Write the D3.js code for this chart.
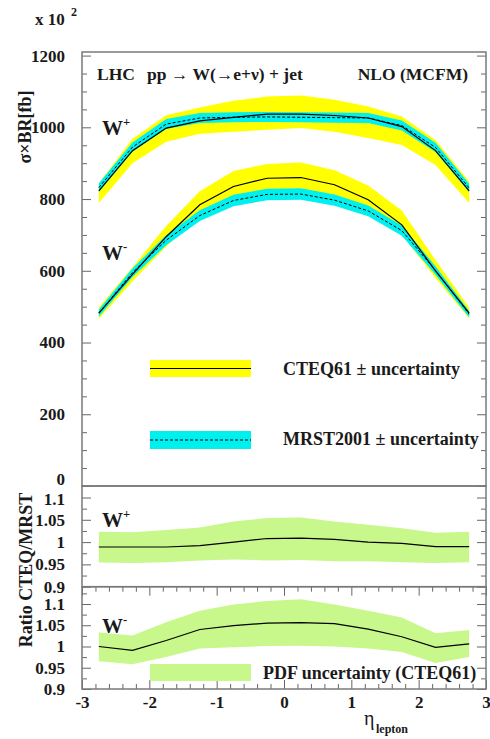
<!DOCTYPE html>
<html><head><meta charset="utf-8">
<script src="https://cdn.jsdelivr.net/npm/d3@7"></script>
<style>
body{margin:0;background:#fff}
svg{display:block}
text{font-family:"Liberation Serif","Times New Roman",serif;fill:#1a1a1a}
</style>
</head><body><svg id="c" width="490" height="739"></svg>
<script>
// ---------------- data ----------------
const eta = [-2.75,-2.25,-1.75,-1.25,-0.75,-0.25,0.25,0.75,1.25,1.75,2.25,2.75];

const cteqWp   = [823, 935, 998, 1018, 1028, 1037, 1037, 1033, 1026, 1002, 935, 823];
const cteqWpLo = [789, 900, 960,  982,  988,  993,  998,  988,  970,  951, 895, 789];
const cteqWpHi = [844, 968,1034, 1055, 1074, 1086, 1089, 1077, 1058, 1030, 965, 849];

const mrstWp   = [832, 945,1009, 1026, 1028, 1029, 1028, 1027, 1026, 1005, 944, 831];
const mrstWpLo = [820, 932, 995, 1012, 1014, 1015, 1014, 1013, 1012,  991, 931, 819];
const mrstWpHi = [844, 958,1023, 1040, 1042, 1043, 1042, 1041, 1040, 1019, 957, 843];

const cteqWm   = [482, 590, 695, 784, 835, 858, 860, 840, 798, 728, 600, 482];
const cteqWmLo = [466, 570, 668, 753, 800, 815, 816, 798, 760, 700, 580, 467];
const cteqWmHi = [498, 610, 725, 822, 878, 898, 902, 880, 838, 768, 630, 498];

const mrstWm   = [482, 595, 685, 754, 796, 813, 814, 797, 767, 712, 601, 479];
const mrstWmLo = [472, 583, 671, 739, 780, 797, 798, 781, 752, 698, 589, 470];
const mrstWmHi = [492, 607, 699, 769, 812, 829, 830, 813, 782, 726, 613, 488];

const ratioWp   = [0.989,0.989,0.989,0.992,1.000,1.008,1.009,1.006,1.000,0.997,0.990,0.990];
const ratioWpLo = [0.954,0.953,0.955,0.959,0.961,0.959,0.960,0.957,0.957,0.955,0.953,0.955];
const ratioWpHi = [1.023,1.022,1.027,1.033,1.046,1.054,1.055,1.046,1.039,1.031,1.021,1.023];

const ratioWm   = [1.000,0.991,1.014,1.040,1.049,1.055,1.056,1.054,1.041,1.023,0.998,1.006];
const ratioWmLo = [0.965,0.958,0.975,0.995,0.998,1.001,1.002,1.000,0.995,0.987,0.961,0.975];
const ratioWmHi = [1.033,1.026,1.057,1.084,1.099,1.107,1.111,1.099,1.084,1.068,1.031,1.039];

const xTicks = [-3,-2,-1,0,1,2,3];
const mainTicks = [0,200,400,600,800,1000,1200];
const ratioTicks = [0.9,0.95,1,1.05,1.1];

// ---------------- layout ----------------
const svg = d3.select("#c");
svg.append("rect").attr("width",490).attr("height",739).attr("fill","#fff");
const X0 = 82, X1 = 486;
const x   = d3.scaleLinear().domain([-3,3]).range([X0,X1]);
const yM  = d3.scaleLinear().domain([0,1210]).range([486,52]);
const yR1 = d3.scaleLinear().domain([0.9,1.128]).range([586.7,485]);
const yR2 = d3.scaleLinear().domain([0.9,1.1407]).range([689,586.7]);

const YEL = "#ffff00", CYAN = "#00f0f0", GREEN = "#c8f78c";
const FRAME = "#7a7a7a";

function band(lo, hi, y, fill){
  svg.append("path")
    .datum(eta.map((e,i)=>({e, lo:lo[i], hi:hi[i]})))
    .attr("d", d3.area().x(d=>x(d.e)).y0(d=>y(d.lo)).y1(d=>y(d.hi)))
    .attr("fill", fill);
}
function line(v, y, dash){
  const p = svg.append("path")
    .datum(eta.map((e,i)=>({e, v:v[i]})))
    .attr("d", d3.line().x(d=>x(d.e)).y(d=>y(d.v)))
    .attr("fill","none").attr("stroke","#000")
    .attr("stroke-width", dash ? 1 : 1.2);
  if (dash) p.attr("stroke-dasharray", "3,2");
}

// main panel
band(cteqWpLo, cteqWpHi, yM, YEL);
band(cteqWmLo, cteqWmHi, yM, YEL);
band(mrstWpLo, mrstWpHi, yM, CYAN);
band(mrstWmLo, mrstWmHi, yM, CYAN);
line(mrstWp, yM, true);
line(mrstWm, yM, true);
line(cteqWp, yM, false);
line(cteqWm, yM, false);

// ratio panels
band(ratioWpLo, ratioWpHi, yR1, GREEN);
line(ratioWp, yR1, false);
band(ratioWmLo, ratioWmHi, yR2, GREEN);
line(ratioWm, yR2, false);

// ---------------- axes ----------------
function styleAxis(g){
  g.select(".domain").remove();
  g.selectAll(".tick line").attr("stroke","#666");
  g.selectAll("text").attr("font-size","17px").attr("font-weight","bold")
    .attr("fill","#1a1a1a").attr("font-family","'Liberation Serif',serif");
}
function yAxes(y, major, minor){
  const g = svg.append("g").attr("transform",`translate(${X0},0)`)
    .call(d3.axisLeft(y).tickValues(major).tickSizeInner(-9).tickSizeOuter(0).tickPadding(17)
      .tickFormat(d=>String(+d.toFixed(3)))).call(styleAxis);
  svg.append("g").attr("transform",`translate(${X0},0)`)
    .call(d3.axisLeft(y).tickValues(minor).tickSizeInner(-5).tickSizeOuter(0).tickFormat("")).call(styleAxis);
  svg.append("g").attr("transform",`translate(${X1},0)`)
    .call(d3.axisRight(y).tickValues(major).tickSizeInner(-9).tickSizeOuter(0).tickFormat("")).call(styleAxis);
  svg.append("g").attr("transform",`translate(${X1},0)`)
    .call(d3.axisRight(y).tickValues(minor).tickSizeInner(-5).tickSizeOuter(0).tickFormat("")).call(styleAxis);
  return g;
}
const gMain = yAxes(yM, mainTicks, d3.range(50,1200,50).filter(v=>v%200!==0));
// keep the "0" label clear of the ratio panel's top label
gMain.selectAll(".tick text").filter(d=>d===0).attr("dy","-0.1em");
const gR1 = yAxes(yR1, ratioTicks, [0.925,0.975,1.025,1.075]);
gR1.selectAll(".tick text").filter(d=>d===1.1).attr("dy","0.42em");
yAxes(yR2, ratioTicks, [0.925,0.975,1.025,1.075,1.125]);

const xMinor = d3.range(-2.8,3,0.2).map(v=>+v.toFixed(1)).filter(v=>Math.abs(v-Math.round(v))>0.01);
svg.append("g").attr("transform","translate(0,689)")
  .call(d3.axisBottom(x).tickValues(xTicks).tickSizeInner(-9).tickSizeOuter(0).tickPadding(7).tickFormat(d=>String(d)))
  .call(styleAxis);
svg.append("g").attr("transform","translate(0,689)")
  .call(d3.axisBottom(x).tickValues(xMinor).tickSizeInner(-5).tickSizeOuter(0).tickFormat("")).call(styleAxis);
svg.append("g").attr("transform","translate(0,586.7)")
  .call(d3.axisTop(x).tickValues(xTicks).tickSizeInner(-9).tickSizeOuter(0).tickFormat("")).call(styleAxis);
svg.append("g").attr("transform","translate(0,586.7)")
  .call(d3.axisTop(x).tickValues(xMinor).tickSizeInner(-5).tickSizeOuter(0).tickFormat("")).call(styleAxis);

// frames
[[52,486],[486,586.7],[586.7,689]].forEach(([t,b])=>{
  svg.append("rect").attr("x",X0).attr("y",t).attr("width",X1-X0).attr("height",b-t)
    .attr("fill","none").attr("stroke",FRAME).attr("stroke-width",1.5);
});

// ---------------- texts ----------------
function txt(xp, yp, s, size, opts={}){
  const t = svg.append("text").attr("x",xp).attr("y",yp).attr("font-size",size+"px")
    .attr("font-weight", opts.normal ? "normal" : "bold").text(s);
  if (opts.anchor) t.attr("text-anchor", opts.anchor);
  return t;
}
// x 10^2
txt(35, 25, "x 10", 17);
txt(71, 16, "2", 12);

txt(97, 80, "LHC", 17.5);
txt(147, 80, "pp \u2192 W(\u2192e+\u03BD) + jet", 17.5);
txt(468, 80, "NLO (MCFM)", 17.5, {anchor:"end"});

function wlabel(xp, yp, sup, size){
  const t = txt(xp, yp, "W", size);
  t.append("tspan").attr("dy", -9).attr("font-size", (size*0.6)+"px").text(sup);
}
wlabel(102, 135, "+", 21);
wlabel(102, 260, "-", 21);
wlabel(102, 527, "+", 21);
wlabel(102, 633, "-", 21);

// axis titles
svg.append("text").attr("transform","translate(31,127) rotate(-90)").attr("text-anchor","middle")
  .attr("font-size","18px").attr("font-weight","bold").text("\u03C3\u00D7BR[fb]");
svg.append("text").attr("transform","translate(32,570) rotate(-90)").attr("text-anchor","middle")
  .attr("font-size","18px").attr("font-weight","bold").text("Ratio CTEQ/MRST");

txt(364, 725, "\u03B7", 20, {normal:true});
txt(376, 733, "lepton", 12);

// legends
svg.append("rect").attr("x",150).attr("y",360).attr("width",101).attr("height",17).attr("fill",YEL);
svg.append("line").attr("x1",150).attr("x2",251).attr("y1",368.5).attr("y2",368.5).attr("stroke","#000").attr("stroke-width",1.2);
txt(283, 375, "CTEQ61 \u00B1 uncertainty", 18);

svg.append("rect").attr("x",150).attr("y",431).attr("width",101).attr("height",18).attr("fill",CYAN);
svg.append("line").attr("x1",150).attr("x2",251).attr("y1",440).attr("y2",440).attr("stroke","#000").attr("stroke-width",1).attr("stroke-dasharray","3,2");
txt(283, 445, "MRST2001 \u00B1 uncertainty", 18);

svg.append("rect").attr("x",150).attr("y",664).attr("width",101).attr("height",17).attr("fill",GREEN);
txt(263, 679, "PDF uncertainty (CTEQ61)", 18);
</script>
</body></html>
